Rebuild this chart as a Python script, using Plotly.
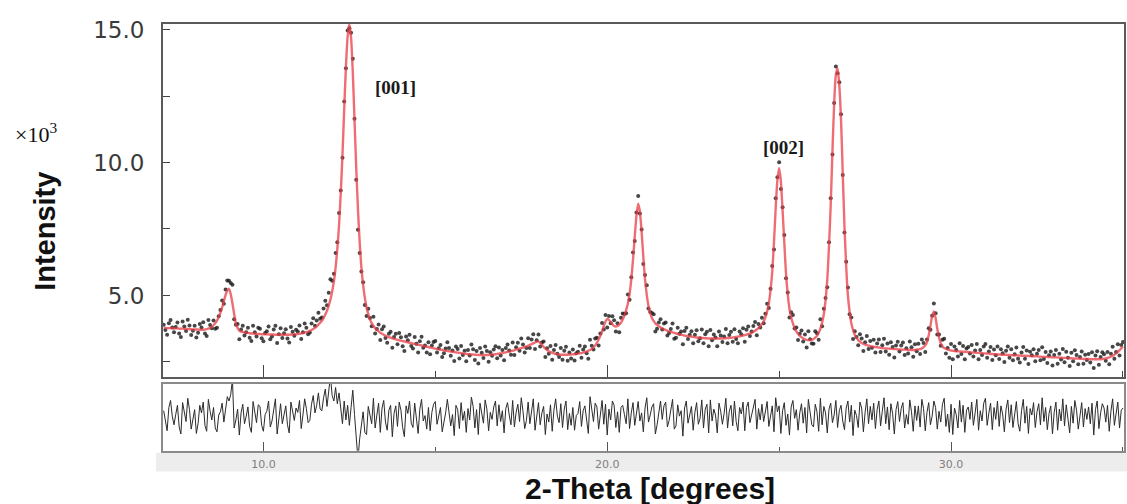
import numpy as np
import plotly.graph_objects as go

# ---------------- data (intensity in units of 10^3 counts) ----------------
scan_start = 7.10
scan_step = 0.05

# calculated (fitted) profile, one row per degree of 2-theta
calc_intensity = [
    # 7.10 - 7.95
    3.78, 3.78, 3.77, 3.77, 3.77, 3.77, 3.76, 3.76, 3.76, 3.75, 3.75, 3.75, 3.74, 3.74, 3.74, 3.73, 3.73, 3.72,
    # 8.00 - 8.95
    3.72, 3.72, 3.72, 3.71, 3.71, 3.71, 3.72, 3.73, 3.75, 3.78, 3.82, 3.88, 3.95, 4.05, 4.18, 4.35, 4.55, 4.78, 5.02, 5.18,
    # 9.00 - 9.95
    5.25, 5.05, 4.70, 4.30, 3.95, 3.78, 3.68, 3.64, 3.62, 3.61, 3.60, 3.59, 3.58, 3.57, 3.57, 3.56, 3.56, 3.55, 3.55, 3.54,
    # 10.00 - 10.95
    3.54, 3.54, 3.54, 3.53, 3.53, 3.53, 3.53, 3.52, 3.52, 3.52, 3.52, 3.52, 3.52, 3.52, 3.52, 3.52, 3.53, 3.53, 3.54, 3.54,
    # 11.00 - 11.95
    3.55, 3.56, 3.57, 3.58, 3.60, 3.62, 3.64, 3.67, 3.70, 3.74, 3.78, 3.84, 3.90, 3.97, 4.05, 4.15, 4.28, 4.43, 4.62, 4.85,
    # 12.00 - 12.95
    5.15, 5.52, 6.05, 6.75, 7.65, 8.85, 10.30, 12.00, 13.60, 14.75, 15.20, 14.70, 13.40, 11.60, 9.80, 8.25, 7.00, 6.05, 5.40, 4.92,
    # 13.00 - 13.95
    4.55, 4.30, 4.10, 3.96, 3.85, 3.77, 3.70, 3.65, 3.60, 3.56, 3.52, 3.49, 3.46, 3.43, 3.41, 3.39, 3.37, 3.35, 3.33, 3.31,
    # 14.00 - 14.95
    3.30, 3.28, 3.27, 3.25, 3.24, 3.22, 3.21, 3.19, 3.18, 3.16, 3.15, 3.13, 3.12, 3.10, 3.09, 3.07, 3.06, 3.04, 3.03, 3.01,
    # 15.00 - 15.95
    3.00, 2.98, 2.97, 2.96, 2.95, 2.93, 2.92, 2.91, 2.90, 2.89, 2.88, 2.87, 2.86, 2.85, 2.84, 2.83, 2.82, 2.81, 2.80, 2.79,
    # 16.00 - 16.95
    2.79, 2.78, 2.78, 2.77, 2.77, 2.76, 2.76, 2.76, 2.76, 2.76, 2.76, 2.76, 2.77, 2.77, 2.78, 2.79, 2.80, 2.81, 2.82, 2.83,
    # 17.00 - 17.95
    2.85, 2.86, 2.88, 2.89, 2.91, 2.92, 2.94, 2.96, 2.98, 3.00, 3.02, 3.04, 3.06, 3.08, 3.11, 3.14, 3.17, 3.20, 3.23, 3.26,
    # 18.00 - 18.95
    3.26, 3.22, 3.15, 3.07, 3.00, 2.95, 2.90, 2.87, 2.84, 2.82, 2.80, 2.79, 2.78, 2.77, 2.77, 2.77, 2.77, 2.77, 2.78, 2.78,
    # 19.00 - 19.95
    2.79, 2.79, 2.80, 2.81, 2.82, 2.83, 2.85, 2.87, 2.89, 2.92, 2.95, 2.99, 3.05, 3.12, 3.22, 3.34, 3.48, 3.65, 3.85, 4.02,
    # 20.00 - 20.95
    4.12, 4.08, 4.00, 3.92, 3.85, 3.83, 3.85, 3.90, 3.98, 4.10, 4.25, 4.45, 4.70, 5.05, 5.60, 6.35, 7.20, 8.00, 8.45, 8.15,
    # 21.00 - 21.95
    7.40, 6.45, 5.60, 5.02, 4.60, 4.34, 4.15, 4.04, 3.95, 3.89, 3.84, 3.80, 3.76, 3.73, 3.70, 3.67, 3.65, 3.63, 3.61, 3.59,
    # 22.00 - 22.95
    3.57, 3.55, 3.54, 3.52, 3.51, 3.49, 3.48, 3.47, 3.46, 3.45, 3.44, 3.43, 3.42, 3.41, 3.41, 3.40, 3.40, 3.39, 3.39, 3.38,
    # 23.00 - 23.95
    3.38, 3.38, 3.38, 3.38, 3.38, 3.38, 3.38, 3.38, 3.39, 3.39, 3.40, 3.40, 3.41, 3.42, 3.43, 3.44, 3.45, 3.46, 3.48, 3.49,
    # 24.00 - 24.95
    3.51, 3.53, 3.55, 3.57, 3.60, 3.63, 3.67, 3.72, 3.77, 3.84, 3.92, 4.03, 4.18, 4.40, 4.70, 5.20, 5.90, 7.00, 8.30, 9.35,
    # 25.00 - 25.95
    9.80, 9.30, 8.20, 7.00, 5.80, 5.05, 4.50, 4.18, 3.95, 3.78, 3.65, 3.56, 3.48, 3.43, 3.38, 3.35, 3.33, 3.32, 3.32, 3.33,
    # 26.00 - 26.95
    3.36, 3.41, 3.48, 3.59, 3.75, 3.98, 4.30, 4.82, 5.60, 6.85, 8.40, 10.40, 12.20, 13.30, 13.55, 12.90, 11.60, 9.60, 7.60, 6.10,
    # 27.00 - 27.95
    5.00, 4.38, 3.95, 3.70, 3.52, 3.41, 3.32, 3.26, 3.21, 3.18, 3.15, 3.13, 3.11, 3.09, 3.08, 3.07, 3.06, 3.05, 3.04, 3.03,
    # 28.00 - 28.95
    3.02, 3.01, 3.01, 3.00, 3.00, 2.99, 2.99, 2.98, 2.98, 2.97, 2.97, 2.96, 2.96, 2.96, 2.96, 2.95, 2.95, 2.95, 2.95, 2.95,
    # 29.00 - 29.95
    2.96, 2.97, 2.98, 3.01, 3.05, 3.12, 3.25, 3.50, 3.85, 4.22, 4.40, 4.15, 3.75, 3.42, 3.20, 3.09, 3.02, 2.99, 2.96, 2.94,
    # 30.00 - 30.95
    2.93, 2.92, 2.91, 2.90, 2.90, 2.89, 2.89, 2.88, 2.88, 2.87, 2.87, 2.86, 2.86, 2.85, 2.85, 2.84, 2.84, 2.83, 2.83, 2.82,
    # 31.00 - 31.95
    2.82, 2.81, 2.81, 2.80, 2.80, 2.79, 2.79, 2.78, 2.78, 2.77, 2.77, 2.77, 2.77, 2.76, 2.76, 2.75, 2.75, 2.75, 2.75, 2.74,
    # 32.00 - 32.95
    2.74, 2.73, 2.73, 2.73, 2.73, 2.72, 2.72, 2.71, 2.71, 2.71, 2.71, 2.70, 2.70, 2.69, 2.69, 2.69, 2.69, 2.68, 2.68, 2.67,
    # 33.00 - 33.95
    2.67, 2.67, 2.67, 2.66, 2.66, 2.65, 2.65, 2.65, 2.65, 2.64, 2.64, 2.63, 2.63, 2.63, 2.63, 2.62, 2.62, 2.61, 2.61, 2.61,
    # 34.00 - 34.95
    2.61, 2.60, 2.60, 2.60, 2.60, 2.60, 2.60, 2.60, 2.61, 2.62, 2.63, 2.65, 2.67, 2.70, 2.73, 2.77, 2.82, 2.88, 2.94, 3.01,
    # 35.00
    3.08,
]

diff_intensity = [
    # 7.10 - 7.95
    0.12, -0.08, -0.25, 0.18, 0.31, 0.02, -0.14, 0.05, 0.22, -0.18, -0.31, 0.27, 0.09, -0.08, 0.35, 0.14, -0.22, -0.05,
    # 8
    0.14, -0.30, -0.12, 0.22, 0.08, 0.28, -0.15, -0.26, 0.33, 0.11, -0.05, 0.18, -0.20, -0.27, 0.04, 0.10, 0.26, -0.09, 0.20, 0.38,
    # 9
    0.30, 0.42, 0.70, -0.20, -0.05, 0.15, -0.33, 0.08, 0.24, -0.12, 0.02, 0.19, -0.17, -0.28, 0.29, 0.06, -0.10, 0.23, 0.20, -0.15,
    # 10
    -0.26, 0.05, 0.11, 0.30, -0.18, -0.07, 0.19, 0.34, -0.31, 0.02, 0.25, -0.12, 0.06, 0.21, -0.14, -0.29, 0.28, 0.10, -0.06, 0.17,
    # 11
    0.09, 0.31, -0.21, 0.04, 0.34, 0.16, -0.10, -0.06, 0.24, 0.40, 0.08, 0.22, 0.45, 0.15, 0.12, 0.36, 0.52, 0.20, 0.48, 0.76,
    # 12
    0.40, 0.30, 0.55, 0.25, 0.45, 0.10, -0.12, 0.30, -0.05, 0.22, -0.15, 0.18, 0.50, 0.05, -0.45, -0.78, -0.40, -0.15, 0.10, -0.28,
    # 13
    -0.32, 0.20, 0.05, -0.12, 0.35, -0.20, 0.04, 0.26, -0.28, 0.17, 0.31, -0.09, -0.24, 0.13, 0.22, -0.36, 0.07, 0.21, -0.17, 0.28,
    # 14
    0.13, -0.19, -0.36, 0.21, 0.07, 0.30, -0.11, -0.19, 0.26, 0.02, -0.30, 0.15, 0.33, -0.07, 0.03, -0.22, 0.18, -0.25, 0.09, 0.24,
    # 15
    0.29, -0.13, 0.04, 0.18, -0.27, -0.10, 0.08, 0.33, 0.12, -0.16, 0.05, -0.34, 0.22, 0.14, -0.21, 0.27, -0.06, 0.11, -0.28, 0.16,
    # 16
    -0.05, 0.37, 0.20, -0.20, 0.14, -0.32, 0.26, 0.08, -0.11, 0.32, 0.15, -0.25, 0.09, -0.04, 0.19, 0.30, -0.16, 0.23, -0.08, 0.12,
    # 17
    -0.29, 0.16, 0.27, 0.04, -0.14, 0.31, -0.18, 0.09, 0.24, -0.08, 0.36, 0.11, -0.21, -0.06, 0.28, -0.12, 0.17, 0.34, -0.24, 0.05,
    # 18
    0.27, -0.14, 0.08, 0.20, -0.32, 0.06, -0.09, 0.23, -0.26, 0.13, 0.34, 0.02, -0.10, 0.25, -0.19, 0.15, 0.30, -0.23, 0.07, -0.15,
    # 19
    0.18, -0.24, 0.03, 0.07, 0.29, -0.17, 0.12, 0.21, -0.06, -0.30, 0.38, 0.12, -0.08, 0.26, 0.19, -0.22, 0.09, 0.31, -0.13, 0.24,
    # 20
    -0.33, 0.15, -0.05, 0.30, 0.22, -0.19, 0.10, -0.28, 0.18, 0.22, 0.05, -0.12, 0.34, -0.21, 0.08, 0.27, -0.15, 0.12, 0.29, -0.07,
    # 21
    0.08, -0.27, 0.17, 0.36, -0.09, 0.04, 0.19, 0.25, -0.31, -0.14, 0.14, 0.30, -0.04, 0.21, 0.28, -0.18, -0.06, 0.11, 0.33, -0.22,
    # 22
    -0.16, 0.23, 0.02, 0.12, -0.35, 0.17, 0.30, -0.11, 0.06, 0.20, -0.24, 0.09, 0.27, -0.13, -0.02, 0.32, -0.20, 0.15, 0.24, -0.29,
    # 23
    0.32, -0.07, 0.15, 0.04, -0.29, 0.26, 0.11, -0.13, 0.07, 0.35, -0.20, 0.11, 0.22, -0.16, 0.30, -0.08, -0.25, 0.18, 0.06, 0.28,
    # 24
    -0.25, 0.18, 0.28, -0.10, 0.04, 0.22, 0.33, -0.22, 0.16, -0.05, 0.24, -0.08, 0.13, 0.29, -0.17, 0.05, 0.21, -0.27, 0.36, 0.10,
    # 25
    0.21, -0.30, 0.12, 0.27, -0.15, 0.06, -0.33, 0.19, 0.31, -0.02, 0.14, -0.24, 0.08, 0.25, -0.11, 0.18, -0.29, 0.33, 0.03, -0.14,
    # 26
    -0.18, 0.24, 0.10, -0.26, 0.35, -0.14, 0.20, 0.08, -0.29, 0.15, 0.26, -0.10, 0.04, 0.31, -0.19, 0.12, 0.22, -0.07, -0.23, 0.17,
    # 27
    0.30, -0.09, 0.22, -0.34, 0.13, 0.03, -0.19, 0.28, 0.17, -0.27, 0.09, 0.34, -0.12, 0.20, -0.05, 0.26, -0.21, 0.14, 0.30, -0.16,
    # 28
    0.11, 0.36, -0.12, 0.19, -0.23, 0.25, 0.07, -0.31, 0.14, 0.29, -0.08, 0.16, 0.27, -0.20, 0.05, -0.13, 0.32, 0.10, -0.26, 0.21,
    # 29
    -0.06, 0.21, -0.18, 0.33, 0.16, -0.25, 0.09, 0.27, -0.14, 0.02, 0.30, 0.18, -0.22, 0.11, -0.09, 0.24, 0.35, -0.17, 0.06, -0.28,
    # 30
    0.24, -0.32, 0.17, 0.05, -0.20, 0.31, -0.09, 0.22, -0.28, 0.13, 0.19, -0.04, 0.28, -0.15, 0.08, 0.33, -0.24, 0.12, -0.07, 0.26,
    # 31
    0.35, -0.15, 0.08, 0.26, -0.23, 0.18, -0.04, 0.30, -0.17, 0.21, 0.06, -0.27, 0.15, 0.32, -0.10, 0.23, -0.19, 0.04, 0.29, -0.12,
    # 32
    -0.26, 0.12, 0.33, -0.11, 0.20, -0.30, 0.16, 0.04, 0.27, -0.19, 0.10, 0.25, -0.14, 0.36, -0.08, 0.18, -0.23, 0.07, 0.21, -0.31,
    # 33
    0.09, 0.28, -0.24, 0.15, -0.07, 0.34, -0.16, 0.23, 0.01, -0.29, 0.20, -0.11, 0.31, 0.13, -0.22, 0.06, 0.27, -0.18, 0.16, -0.04,
    # 34
    0.19, -0.12, 0.26, -0.33, 0.14, 0.30, -0.21, 0.08, 0.25, 0.17, -0.09, 0.22, -0.26, 0.11, 0.34, -0.15, 0.05, 0.28, -0.20, 0.13,
    # 35.00
    0.17,
]

x_tick_vals = [10, 20, 30]
x_tick_text = ["10.0", "20.0", "30.0"]
peak_labels = ["[001]", "[002]"]

# ---------------- derived ----------------
n = min(len(calc_intensity), len(diff_intensity))
two_theta = np.round(scan_start + scan_step * np.arange(n), 2)
calc = np.array(calc_intensity[:n])
diff = np.array(diff_intensity[:n])
obs = calc + diff

W, H = 1127, 504
def px(x):
    return x / W
def py(y):
    return 1 - y / H

fig = go.Figure()

# observed points
fig.add_trace(go.Scatter(
    x=two_theta, y=obs, mode="markers",
    marker=dict(size=4, color="rgba(25,25,25,0.8)", line=dict(width=0)),
    xaxis="x", yaxis="y", showlegend=False, hoverinfo="skip"))
# calculated profile
fig.add_trace(go.Scatter(
    x=two_theta, y=calc, mode="lines",
    line=dict(color="rgba(232,60,70,0.75)", width=2.4, shape="spline", smoothing=0.6),
    xaxis="x", yaxis="y", showlegend=False, hoverinfo="skip"))
# difference curve
fig.add_trace(go.Scatter(
    x=two_theta, y=diff, mode="lines",
    line=dict(color="#2b2b2b", width=1),
    xaxis="x2", yaxis="y2", showlegend=False, hoverinfo="skip"))

x_dom = [px(163), px(1124)]
frame_col = "#5a5a5a"

fig.update_layout(
    width=W, height=H,
    margin=dict(l=0, r=0, t=0, b=0),
    paper_bgcolor="white", plot_bgcolor="white",
    xaxis=dict(
        domain=x_dom, anchor="y", range=[7.08, 35.03],
        showgrid=False, zeroline=False, showticklabels=False,
        ticks="inside", tickvals=x_tick_vals, ticklen=12, tickcolor="#444", tickwidth=1,
        minor=dict(ticks="inside", dtick=5, tick0=0, ticklen=6, tickcolor="#444", showgrid=False),
        showline=True, mirror=True, linecolor=frame_col, linewidth=2),
    yaxis=dict(
        domain=[py(375), py(17)], anchor="x", range=[1.94, 15.22],
        showgrid=False, zeroline=False,
        tick0=0, dtick=5, tickformat=".1f",
        ticks="inside", ticklen=7, tickcolor="#444", tickwidth=1,
        minor=dict(ticks="inside", tick0=0, dtick=2.5, ticklen=7, tickcolor="#444", showgrid=False),
        ticklabelstandoff=12,
        tickfont=dict(family="DejaVu Sans", size=23, color="#3a3a3a"),
        showline=True, mirror=True, linecolor=frame_col, linewidth=2),
    xaxis2=dict(
        domain=x_dom, anchor="y2", range=[7.08, 35.03],
        showgrid=False, zeroline=False,
        tickvals=x_tick_vals, ticktext=x_tick_text,
        ticks="inside", ticklen=9, tickcolor="#555", tickwidth=1,
        minor=dict(ticks="inside", dtick=5, tick0=0, ticklen=4, tickcolor="#555", showgrid=False),
        tickfont=dict(family="DejaVu Sans", size=11, color="#808080"),
        ticklabelstandoff=2,
        showline=True, mirror=True, linecolor="#8a8a8a", linewidth=2),
    yaxis2=dict(
        domain=[py(450), py(382)], anchor="x2", range=[-0.62, 0.62],
        showgrid=False, zeroline=False, showticklabels=False, ticks="",
        showline=True, mirror=True, linecolor="#8a8a8a", linewidth=2),
    shapes=[
        dict(type="rect", xref="paper", yref="paper", layer="below",
             x0=px(156), x1=1.0, y0=py(471), y1=py(452),
             fillcolor="#ededed", line=dict(width=0)),
    ],
    annotations=[
        dict(text="Intensity", xref="paper", yref="paper", x=px(45), y=py(228),
             textangle=-90, showarrow=False, xanchor="center", yanchor="middle",
             font=dict(family="Liberation Sans", size=29, color="#111111", weight="bold")),
        dict(text="×10<sup>3</sup>", xref="paper", yref="paper", x=px(36), y=py(128),
             showarrow=False, xanchor="center", yanchor="middle",
             font=dict(family="Liberation Serif", size=22, color="#111111")),
        dict(text="2-Theta [degrees]", xref="paper", yref="paper", x=px(650), y=py(488),
             showarrow=False, xanchor="center", yanchor="middle",
             font=dict(family="Liberation Sans", size=30, color="#111111", weight="bold")),
        dict(text=peak_labels[0], xref="paper", yref="paper", x=px(395), y=py(82),
             showarrow=False, xanchor="center", yanchor="middle",
             font=dict(family="Liberation Serif", size=19, color="#1a1a1a", weight="bold")),
        dict(text=peak_labels[1], xref="paper", yref="paper", x=px(783), y=py(142),
             showarrow=False, xanchor="center", yanchor="middle",
             font=dict(family="Liberation Serif", size=19, color="#1a1a1a", weight="bold")),
    ],
)

fig.write_html("out.html")
